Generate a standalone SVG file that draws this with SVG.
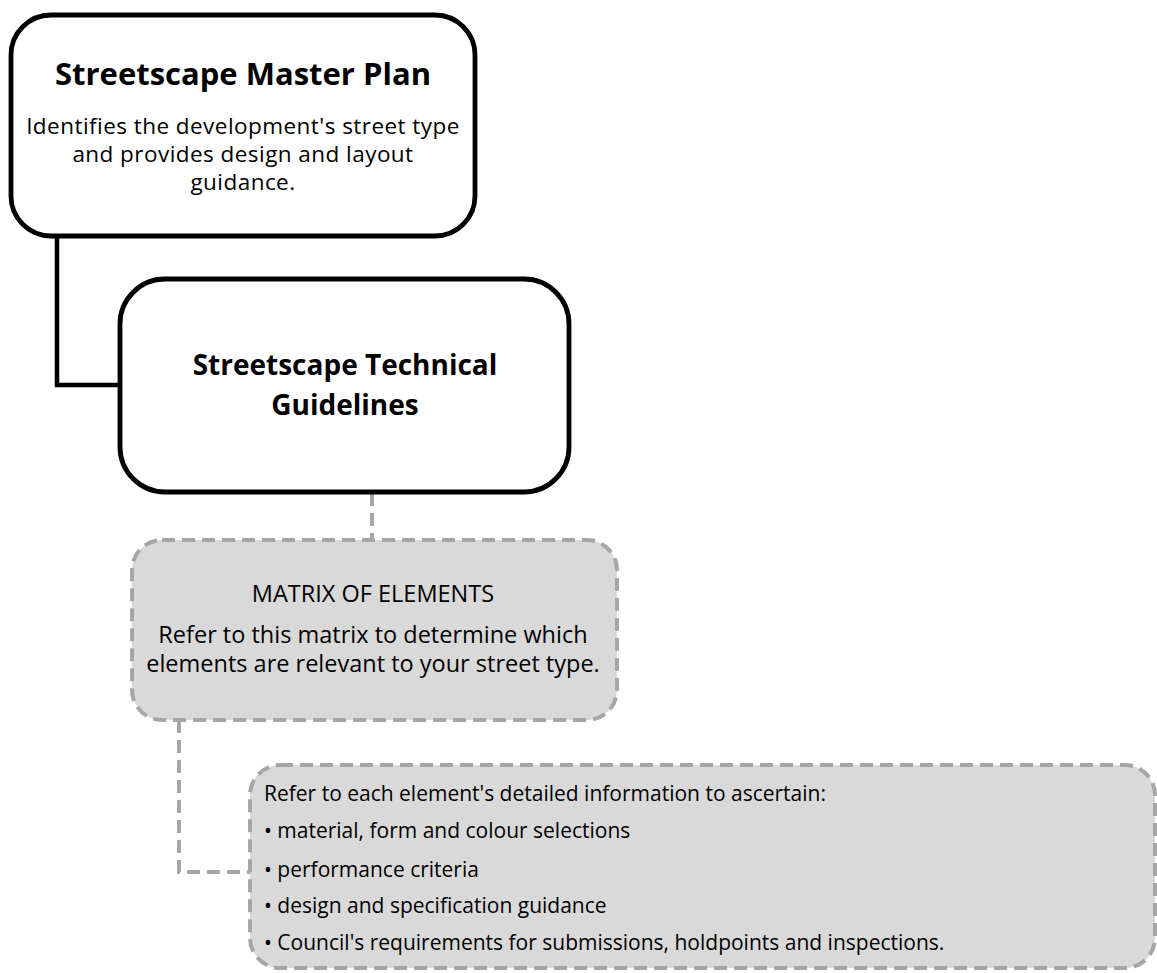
<svg xmlns="http://www.w3.org/2000/svg" width="1157" height="973" viewBox="0 0 1157 973">
<style>
.solid{fill:#fff;stroke:#000;stroke-width:4.8}
.dash{fill:#d9d9d9;stroke:#a6a6a6;stroke-width:4;stroke-dasharray:13 7}
.cs{fill:none;stroke:#000;stroke-width:4.5}
.cd{fill:none;stroke:#a6a6a6;stroke-width:4;stroke-dasharray:13 7}
text{font-family:"Open Sans","Noto Sans","DejaVu Sans",sans-serif;fill:#000}
.t{font-weight:bold;font-size:31px;text-anchor:middle}
.t2{font-weight:bold;font-size:28px;text-anchor:middle}
.b{font-size:23.5px;text-anchor:middle}
.s{font-size:22.5px;letter-spacing:0.45px;text-anchor:middle}
.l{font-size:21px}
</style>
<rect width="1157" height="973" fill="#fff"/>
<g id="connectors">
<path class="cs" d="M57 237 V385 H120"/>
<path class="cd" d="M372 493 V540"/>
<path class="cd" d="M179 720 V872 H250"/>
</g>
<g id="master-plan">
<rect class="solid" x="11" y="15" width="464" height="221" rx="40"/>
<text class="t" x="243" y="85">Streetscape Master Plan</text>
<text class="s" x="243" y="134"><tspan x="243" y="134">Identifies the development's street type</tspan><tspan x="243" y="162">and provides design and layout</tspan><tspan x="243" y="190">guidance.</tspan></text>
</g>
<g id="technical-guidelines">
<rect class="solid" x="120" y="279" width="449" height="213" rx="45"/>
<text class="t2" x="345" y="375"><tspan x="345" y="375">Streetscape Technical</tspan><tspan x="345" y="415">Guidelines</tspan></text>
</g>
<g id="matrix">
<rect class="dash" x="132" y="540" width="485" height="180" rx="30"/>
<text class="b" x="373" y="602">MATRIX OF ELEMENTS</text>
<text class="b" x="373" y="643"><tspan x="373" y="643">Refer to this matrix to determine which</tspan><tspan x="373" y="672">elements are relevant to your street type.</tspan></text>
</g>
<g id="element-info">
<rect class="dash" x="250" y="765" width="905" height="203" rx="30"/>
<text class="l" x="264" y="801"><tspan x="264" y="801">Refer to each element's detailed information to ascertain:</tspan><tspan x="264" y="838">• material, form and colour selections</tspan><tspan x="264" y="877">• performance criteria</tspan><tspan x="264" y="913">• design and specification guidance</tspan><tspan x="264" y="950">• Council's requirements for submissions, holdpoints and inspections.</tspan></text>
</g>
</svg>
